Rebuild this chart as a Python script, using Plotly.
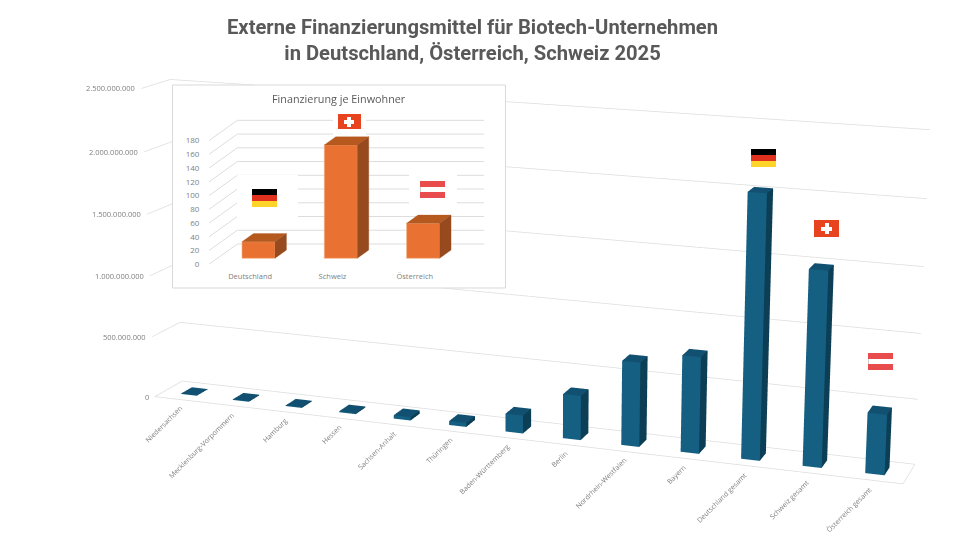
import numpy as np
import plotly.graph_objects as go

# ---- data ----
categories = ["Niedersachsen","Mecklenburg-Vorpommern","Hamburg","Hessen","Sachsen-Anhalt","Thüringen",
              "Baden-Württemberg","Berlin","Nordrhein-Westfalen","Bayern","Deutschland gesamt","Schweiz gesamt","Österreich gesamt"]
values = [3e6,5e6,5e6,8e6,27e6,32e6,143e6,350e6,660e6,750e6,2.02e9,1.49e9,0.46e9]
z_ticks = [0,5e8,1e9,1.5e9,2e9,2.5e9]
z_tick_labels = ["0","500.000.000","1.000.000.000","1.500.000.000","2.000.000.000","2.500.000.000"]
inset_categories = ["Deutschland","Schweiz","Österreich"]
inset_values = [24,165,51]
inset_ticks = [0,20,40,60,80,100,120,140,160,180]

# The page has an 8px body margin, so the figure fills the rest of the 960x540 window
W,H=952,532
def PX(x): return (x-8)/W
def PY(y): return 1-(y-8)/H

# linear map from (category/13, depth, value/zmax) to scene units, which gives the reference's view
EYE=np.array([0.3,-2.0,0.4])
VIEW=[2.3617,0.0592,-0.0234,0.0861,0.0667,0.1209,-0.1685,0.0334,1.0023]
OFFSET=[-1.0863,-0.1626,-0.4172]
bw,d0,d1=0.3056,0.2994,0.7022
A=np.array(VIEW).reshape(3,3);b=np.array(OFFSET)
FRONT,TOP,SIDE="#156082","#115070","#0C3F55"
GRID="#DDDDDD"
n=len(categories); zmax=z_ticks[-1]
def T(x,y,z):
    c=A@np.array([x/n,y,z/zmax])+b
    return float(c[0]),float(c[1]),float(c[2])
F=1.2071*H; CX,CY=8+W/2,8+H/2
def screen(q):
    f=-EYE/np.linalg.norm(EYE); R=np.cross(f,[0,0,1.0]); R=R/np.linalg.norm(R); U=np.cross(R,f)
    d=np.array(T(*q))-EYE; w=d@f
    return CX+F*(d@R)/w, CY-F*(d@U)/w
BOX=(172.5,85,505.5,288)
def outside(q):
    u,v=screen(q)
    return not (BOX[0]<u<BOX[2] and BOX[1]<v<BOX[3])
def clipped(p0,p1,steps=400):
    """Parts of a grid segment that are not hidden by the inset panel."""
    p0=np.array(p0,float);p1=np.array(p1,float);runs=[];cur=None
    for k in range(steps+1):
        q=tuple(p0+(p1-p0)*k/steps)
        if outside(q):
            cur=[q,q] if cur is None else [cur[0],q]
        elif cur is not None:
            runs.append(cur);cur=None
    if cur is not None: runs.append(cur)
    return runs

fig=go.Figure()
segs=[]
for t in z_ticks:
    segs+=clipped((0,0,t),(0,1,t))+clipped((0,1,t),(n,1,t))
segs+=[[(0,0,0),(n,0,0)],[(n,0,0),(n,1,0)]]
gx,gy,gz=[],[],[]
for seg in segs:
    for q in seg:
        a=T(*q);gx.append(a[0]);gy.append(a[1]);gz.append(a[2])
    gx.append(None);gy.append(None);gz.append(None)
fig.add_trace(go.Scatter3d(x=gx,y=gy,z=gz,mode="lines",line=dict(color=GRID,width=1.5),hoverinfo="skip",showlegend=False))

X,Y,Z,I,J,K,FC=[],[],[],[],[],[],[]
quads=[((0,1,5,4),FRONT),((4,5,7,6),TOP),((1,3,7,5),SIDE)]
for i,v in enumerate(values):
    s=len(X)
    for zz in (0,v):
        for dd in (d0,d1):
            for xx in (i+.5-bw/2,i+.5+bw/2):
                a=T(xx,dd,zz);X.append(a[0]);Y.append(a[1]);Z.append(a[2])
    for (a,bb,cc,dv),col in quads:
        I+=[s+a,s+a];J+=[s+bb,s+cc];K+=[s+cc,s+dv];FC+=[col,col]
fig.add_trace(go.Mesh3d(x=X,y=Y,z=Z,i=I,j=J,k=K,facecolor=FC,flatshading=True,
    lighting=dict(ambient=1,diffuse=0,specular=0,roughness=1,fresnel=0),hoverinfo="skip",showscale=False))

# inset: cartesian axes, oblique depth faces in axis units
px_cat,px_unit=82.3,0.687
shx,shz=28.3/px_cat,20.3/px_unit
iw,id0,id1=33/px_cat,.295,.7
IC=["#E97132","#B5591F","#974A1E"]
def O(x,d,v): return x+shx*d, v+shz*d
fig.add_trace(go.Bar(x=[i+.5+shx*id0 for i in range(3)],y=inset_values,base=[shz*id0]*3,width=iw,
    marker=dict(color=IC[0],line=dict(color="#F4B183",width=.6)),xaxis="x",yaxis="y",hoverinfo="skip",showlegend=False))
def faces(kind):
    xs,ys=[],[]
    for i,v in enumerate(inset_values):
        l,r=i+.5-iw/2,i+.5+iw/2
        if kind=="top": pts=[O(l,id0,v),O(r,id0,v),O(r,id1,v),O(l,id1,v)]
        else: pts=[O(r,id0,0),O(r,id1,0),O(r,id1,v),O(r,id0,v)]
        for u,w in pts+pts[:1]:
            xs.append(u);ys.append(w)
        xs.append(None);ys.append(None)
    return xs,ys
for kind,col in (("top",IC[1]),("side",IC[2])):
    xs,ys=faces(kind)
    fig.add_trace(go.Scatter(x=xs,y=ys,mode="lines",fill="toself",fillcolor=col,line=dict(color=col,width=.3),xaxis="x",yaxis="y",hoverinfo="skip",showlegend=False))
grid_shapes=[]
for t in inset_ticks:
    p0,p1,p2=O(0,0,t),O(0,1,t),O(3,1,t)
    for u,w in ((p0,p1),(p1,p2)):
        grid_shapes.append(dict(type="line",xref="x",yref="y",x0=u[0],y0=u[1],x1=w[0],y1=w[1],layer="below",line=dict(color=GRID,width=1)))

noax=dict(visible=False,showgrid=False,zeroline=False,showticklabels=False,showbackground=False,showspikes=False)
lab=dict(family="Open Sans",size=7.5,color="#7F7F7F")
lab2=dict(family="Open Sans",size=7,color="#7F7F7F")
def sa(q,font=lab,**k):
    a=T(*q); return dict(x=a[0],y=a[1],z=a[2],showarrow=False,font=font,**k)
main_ann=[sa((0,0,t),text=l,xanchor="right",yanchor="middle",xshift=-4) for t,l in zip(z_ticks,z_tick_labels)]
main_ann+=[sa((i+.5,0,0),font=lab2,text=c,xanchor="right",yanchor="top",xshift=6,yshift=-2,textangle=-45) for i,c in enumerate(categories)]

def rect(x0,y0,x1,y1,color):
    return dict(xref="paper",yref="paper",x=PX(x0),y=PY(y0),xanchor="left",yanchor="top",width=x1-x0,height=y1-y0,
                bgcolor=color,text=" ",font=dict(size=1),borderpad=0,borderwidth=0,showarrow=False)
def flag_de(x,y,w=25,h=18):
    return [rect(x,y+i*h/3,x+w,y+(i+1)*h/3,c) for i,c in enumerate(["#000000","#E0301E","#FFD42A"])]
def flag_at(x,y,w=25,h=17):
    return [rect(x,y,x+w,y+h,"#CFCFCF"),rect(x,y,x+w,y+h/3,"#E84C4C"),rect(x+.6,y+h/3,x+w-.6,y+2*h/3,"#FFFFFF"),rect(x,y+2*h/3,x+w,y+h,"#E84C4C")]
def flag_ch(x,y,w=25,h=17,a=11,t=4):
    cx,cy=x+w/2,y+h/2
    return [rect(x,y,x+w,y+h,"#E8431F"),rect(cx-a/2,cy-t/2,cx+a/2,cy+t/2,"#FFFFFF"),rect(cx-t/2,cy-a/2,cx+t/2,cy+a/2,"#FFFFFF")]
overlay=flag_de(751,149)+flag_ch(814,220)+flag_at(868,353)
overlay+=[rect(237,175,298,228,"white")]+flag_de(252,189)+[rect(333,113,366,135,"white")]+flag_ch(337.5,114,22.5,15,10,3.5)+[rect(409,174,457,208,"white")]+flag_at(420,181)

fig.update_layout(width=W,height=H,margin=dict(l=0,r=0,t=0,b=0,pad=0,autoexpand=False),paper_bgcolor="white",plot_bgcolor="rgba(0,0,0,0)",showlegend=False,barmode="overlay",
  scene=dict(domain=dict(x=[0,1],y=[0,1]),bgcolor="rgba(0,0,0,0)",
     xaxis=dict(noax,range=[-3,3]),yaxis=dict(noax,range=[-3,3]),zaxis=dict(noax,range=[-3,3]),
     aspectmode="manual",aspectratio=dict(x=6,y=6,z=6),
     camera=dict(eye=dict(x=float(EYE[0]),y=float(EYE[1]),z=float(EYE[2])),center=dict(x=0,y=0,z=0),up=dict(x=0,y=0,z=1)),
     annotations=main_ann),
  xaxis=dict(domain=[PX(209),PX(505)],range=[0,(505-209)/px_cat],tickvals=[.5,1.5,2.5],ticktext=inset_categories,showgrid=False,zeroline=False,showline=False,automargin=False,
     ticks="outside",ticklen=5,tickcolor="rgba(0,0,0,0)",tickfont=dict(family="Open Sans",size=7.5,color="#7F7F7F"),fixedrange=True,anchor="y"),
  yaxis=dict(domain=[PY(264.3),PY(86)],range=[0,(264.3-86)/px_unit],tickvals=inset_ticks,ticktext=[str(t) for t in inset_ticks],showgrid=False,zeroline=False,showline=False,automargin=False,
     ticks="outside",ticklen=7,tickcolor="rgba(0,0,0,0)",tickfont=dict(family="Open Sans",size=8,color="#7F7F7F"),fixedrange=True,anchor="x"),
  shapes=[dict(type="rect",xref="paper",yref="paper",x0=PX(172.5),x1=PX(505.5),y0=PY(288),y1=PY(85),layer="below",line=dict(color="#D9D9D9",width=1),fillcolor="white")]+grid_shapes,
  annotations=overlay+[
    dict(xref="paper",yref="paper",x=PX(339),y=PY(99),xanchor="center",yanchor="middle",showarrow=False,text="Finanzierung je Einwohner",font=dict(family="Open Sans",size=10.8,color="#595959")),
    dict(xref="paper",yref="paper",x=PX(472),y=PY(40),xanchor="center",yanchor="middle",showarrow=False,
      text="<b>Externe Finanzierungsmittel für Biotech-Unternehmen<br>in Deutschland, Österreich, Schweiz 2025</b>",font=dict(family="Roboto",size=20.2,color="#595959"))])
fig.write_html("out.html")
